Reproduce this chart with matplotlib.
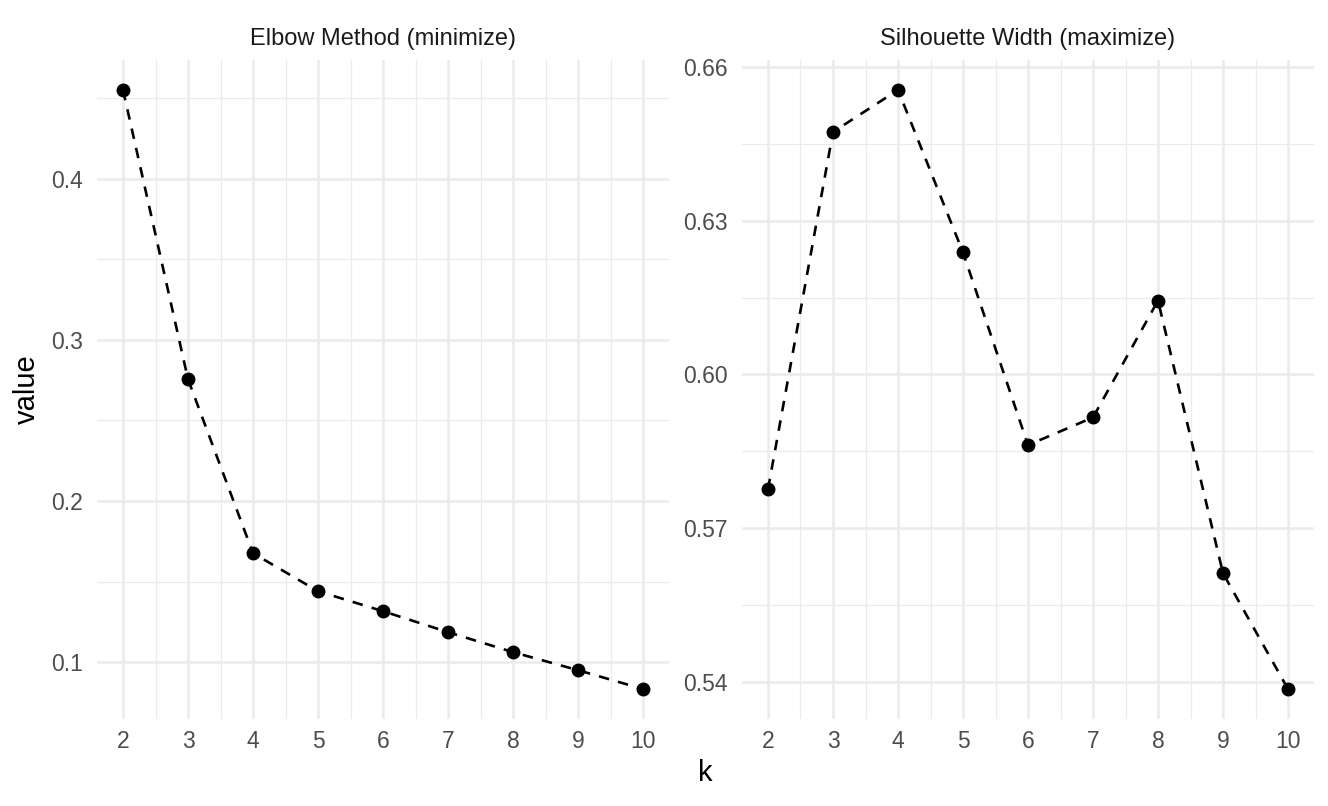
import matplotlib
matplotlib.use("Agg")
import matplotlib.pyplot as plt
import numpy as np

plt.rcParams['font.family'] = ['Liberation Sans', 'DejaVu Sans']

# cluster count and the two quality measures
k = [2, 3, 4, 5, 6, 7, 8, 9, 10]
elbow = [0.455, 0.2755, 0.1676, 0.144, 0.1316, 0.1186, 0.1062, 0.095, 0.0833]
silhouette = [0.5776, 0.6473, 0.6555, 0.6238, 0.5862, 0.5916, 0.6144, 0.5612, 0.5386]

titles = ["Elbow Method (minimize)", "Silhouette Width (maximize)"]
elbow_ticks = [0.1, 0.2, 0.3, 0.4]
elbow_minor = [0.15, 0.25, 0.35, 0.45]
sil_ticks = [0.54, 0.57, 0.60, 0.63, 0.66]
sil_minor = [0.555, 0.585, 0.615, 0.645]
sil_labels = ["0.54", "0.57", "0.60", "0.63", "0.66"]

W, H = 1328, 806
fig = plt.figure(figsize=(W / 100, H / 100), dpi=100)
fig.patch.set_facecolor("white")

# panel boxes in pixels: left, top, right, bottom
boxes = [(97, 60, 669, 719), (742, 60, 1314, 719)]
grid_col = "#EBEBEB"


def panel(box, y, title, yt, ymin, ylab):
    l, t, r, b = box
    ax = fig.add_axes([l / W, (H - b) / H, (r - l) / W, (b - t) / H])
    ax.set_facecolor("white")
    for s in ax.spines.values():
        s.set_visible(False)

    ax.set_xticks(k)
    ax.set_xticks([v + 0.5 for v in k[:-1]], minor=True)
    ax.set_yticks(yt)
    if ylab is not None:
        ax.set_yticklabels(ylab)
    ax.set_yticks(ymin, minor=True)

    # ggplot-style 5% expansion (set after ticks so they don't widen it)
    xr = max(k) - min(k)
    ax.set_xlim(min(k) - 0.05 * xr, max(k) + 0.05 * xr)
    yr = max(y) - min(y)
    ax.set_ylim(min(y) - 0.05 * yr, max(y) + 0.05 * yr)

    ax.grid(True, which="major", color=grid_col, linewidth=1.8, zorder=0)
    ax.grid(True, which="minor", color=grid_col, linewidth=0.9, zorder=0)
    ax.set_axisbelow(True)
    ax.tick_params(which="both", length=0)
    ax.tick_params(axis="x", labelsize=16.5, colors="#4D4D4D", pad=8)
    ax.tick_params(axis="y", labelsize=16.5, colors="#4D4D4D", pad=10)

    ax.plot(k, y, color="black", linewidth=1.9, linestyle=(0, (4, 3.5)), zorder=2)
    ax.plot(k, y, "o", color="black", markersize=9, zorder=3)
    ax.set_title(title, fontsize=17, color="#1A1A1A", pad=11)
    return ax


panel(boxes[0], elbow, titles[0], elbow_ticks, elbow_minor, None)
panel(boxes[1], silhouette, titles[1], sil_ticks, sil_minor, sil_labels)

fig.text(705.5 / W, 1 - 773 / H, "k", fontsize=21, ha="center", va="center", color="black")
fig.text(27 / W, 1 - 389.5 / H, "value", fontsize=21, ha="center", va="center",
         rotation=90, color="black")

fig.savefig("out.png", dpi=100, facecolor="white")
